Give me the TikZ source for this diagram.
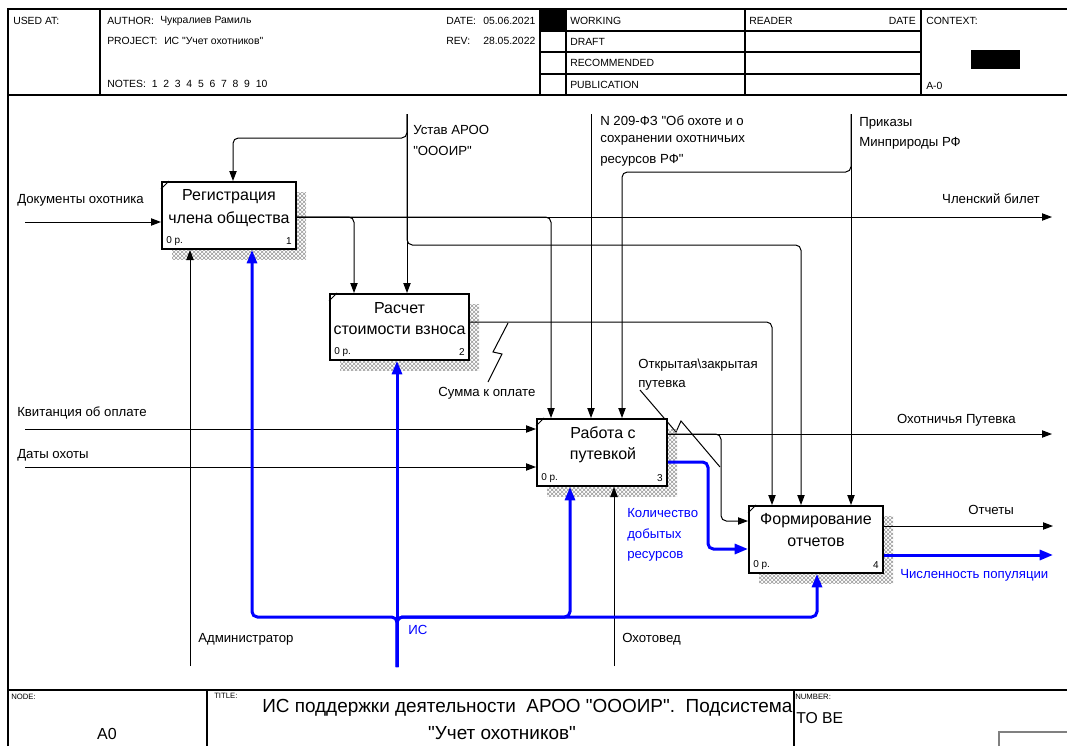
\documentclass[tikz,border=0pt]{standalone}
\usepackage{fontspec}
\setmainfont{Liberation Sans}[Ligatures=TeXOff]
\usetikzlibrary{arrows.meta,calc,patterns,shadows}
\tikzset{
 frm/.style={line width=0.8pt},
 hdr/.style={font=\fontsize{7.8}{9}\selectfont, anchor=west, inner sep=0pt},
 tiny/.style={font=\fontsize{5.8}{7}\selectfont, anchor=west, inner sep=0pt},
 lbl/.style={font=\fontsize{9.9}{11}\selectfont, anchor=west, inner sep=0pt},
 blbl/.style={lbl, text=blue},
 fbox/.style={draw, line width=1.5pt, fill=white, inner sep=0pt,
   general shadow={shadow xshift=7.5pt, shadow yshift=-7.5pt, pattern=crosshatch, pattern color=black!40}},
 btxt/.style={font=\fontsize{12}{13}\selectfont, inner sep=0pt},
 bnum/.style={font=\fontsize{7.5}{8}\selectfont, inner sep=0pt},
 arr/.style={line width=0.75pt, -{Triangle[length=7.5pt,width=5.5pt]}},
 barr/.style={draw=blue, line width=2.25pt, -{Triangle[length=10pt,width=7.5pt]}},
 ln/.style={line width=0.75pt},
 rc/.style={rounded corners=4pt},
}
\begin{document}
\begin{tikzpicture}[x=0.75pt,y=-0.75pt]
\useasboundingbox (0,0) rectangle (1067,746);
% ---------- frame and header ----------
\draw[frm] (8,746) -- (8,9) -- (1067,9);
\draw[frm] (8,95) -- (1067,95);
\foreach \xx in {100,540,566,745,921} \draw[frm] (\xx,9) -- (\xx,95);
\foreach \yy in {31,52,74} \draw[frm] (540,\yy) -- (921,\yy);
\fill (540,9) rectangle (566,31);
\fill (971,50) rectangle (1020,69);
\node[hdr] (hUsed) at (13,21) {USED AT:};
\node[hdr] (hAut) at (107,21) {AUTHOR:};
\node[hdr] (hAutN) at (160,21) {Чукралиев Рамиль};
\node[hdr] (hPrj) at (107,41) {PROJECT:};
\node[hdr] (hPrjN) at (164,41) {ИС "Учет охотников"};
\node[hdr] (hNotes) at (107,84) {NOTES:\ \ 1\ \ 2\ \ 3\ \ 4\ \ 5\ \ 6\ \ 7\ \ 8\ \ 9\ \ 10};
\node[hdr] (hDate) at (446,21) {DATE:};
\node[hdr] (hDateV) at (483,21) {05.06.2021};
\node[hdr] (hRev) at (446,41) {REV:};
\node[hdr] (hRevV) at (483,41) {28.05.2022};
\node[hdr] (hW) at (570,21) {WORKING};
\node[hdr] (hD) at (570,42) {DRAFT};
\node[hdr] (hR) at (570,63) {RECOMMENDED};
\node[hdr] (hP) at (570,85) {PUBLICATION};
\node[hdr] (hRd) at (749,21) {READER};
\node[hdr,anchor=east] (hRdD) at (916,21) {DATE};
\node[hdr] (hCtx) at (926,21) {CONTEXT:};
\node[hdr] (hA0) at (926,86) {A-0};
% ---------- footer ----------
\draw[frm] (8,690) -- (1067,690);
\draw[frm] (207,690) -- (207,746);
\draw[frm] (794,690) -- (794,746);
\draw[gray, line width=1.2pt] (999,746) -- (999,732) -- (1067,732);
\node[tiny] (fNode) at (11,697) {NODE:};
\node[tiny] (fTitle) at (214,696) {TITLE:};
\node[tiny] (fNum) at (795,697) {NUMBER:};
\node[font=\fontsize{12}{13}\selectfont, inner sep=0pt] (fA0) at (107,734) {A0};
\node[font=\fontsize{14.2}{15}\selectfont, inner sep=0pt, anchor=west] (fT1) at (262,708) {ИС поддержки деятельности\ \ АРОО "ОООИР".\ \ Подсистема};
\node[font=\fontsize{14.2}{15}\selectfont, inner sep=0pt] (fT2) at (502,733) {"Учет охотников"};
\node[font=\fontsize{11.8}{13}\selectfont, inner sep=0pt, anchor=west] (fTB) at (796,718) {TO BE};
% ---------- squiggles ----------
\draw[ln] (508,323) -- (493,352) -- (502,354) -- (488,382);
\draw[ln] (640,390) -- (676,432) -- (681,421) -- (720,467);
% ---------- boxes ----------
\node[fbox, minimum width=100.5pt, minimum height=50.25pt] (b1) at (229,215.5) {};
\node[fbox, minimum width=104.25pt, minimum height=49.5pt] (b2) at (399.5,327) {};
\node[fbox, minimum width=97.5pt, minimum height=50.25pt] (b3) at (602,452.5) {};
\node[fbox, minimum width=100.5pt, minimum height=50.25pt] (b4) at (816,539.5) {};
\foreach \b in {b1,b2,b3,b4} \draw[ln] ($(\b.north west)+(0,8)$) -- ($(\b.north west)+(8,0)$);
\node[btxt] (t1a) at (229,197) {Регистрация};
\node[btxt] (t1b) at (229,219) {члена общества};
\node[btxt] (t2a) at (399.5,308) {Расчет};
\node[btxt] (t2b) at (399.5,330) {стоимости взноса};
\node[btxt] (t3a) at (603,433) {Работа с};
\node[btxt] (t3b) at (603,455) {путевкой};
\node[btxt] (t4a) at (816,521) {Формирование};
\node[btxt] (t4b) at (816,542) {отчетов};
\foreach \b/\n in {b1/1,b2/2,b3/3,b4/4}{
  \node[bnum,anchor=west] (\b p) at ($(\b.south west)+(5,-9)$) {0 р.};
  \node[bnum,anchor=east] (\b n) at ($(\b.south east)+(-5,-9)$) {\n};
}
% ---------- connectors ----------
\coordinate (inDok) at (25,222);
\draw[arr] (inDok) -- (inDok -| b1.west);
\coordinate (outCh) at (1052,217);
\draw[arr] (outCh -| b1.east) -- (outCh);
\draw[arr,rc] (outCh -| b1.east) -| ($(b2.north west)+(25,0)$);
\draw[arr,rc] (outCh -| b1.east) -| ($(b3.north west)+(15,0)$);
\coordinate (ust) at (407,114);
\draw[arr] (ust) -- (ust |- b2.north);
\draw[arr,rc] (ust) -- ++(0,24) -| ($(b1.north west)+(72,0)$);
\draw[arr,rc] (ust) -- ++(0,131) -| ($(b4.north west)+(53,0)$);
\coordinate (n209) at (591,114);
\draw[arr] (n209) -- (n209 |- b3.north);
\coordinate (prk) at (851,114);
\draw[arr] (prk) -- (prk |- b4.north);
\draw[arr,rc] (prk) -- ++(0,58) -| ($(b3.north west)+(86,0)$);
\draw[arr,rc] ($(b2.north east)+(0,29)$) -| ($(b4.north west)+(24,0)$);
\coordinate (inKv) at (25,429);
\draw[arr] (inKv) -- (inKv -| b3.west);
\coordinate (inDt) at (25,467);
\draw[arr] (inDt) -- (inDt -| b3.west);
\coordinate (outOh) at (1052,434);
\draw[arr] (outOh -| b3.east) -- (outOh);
\draw[arr,rc] (outOh -| b3.east) -- ++(53,0) |- ($(b4.north west)+(0,16)$);
\draw[barr,rc] ($(b3.north east)+(0,44)$) -- ++(40,0) |- ($(b4.north west)+(0,44)$);
\coordinate (outOt) at (1053,526);
\draw[arr] (outOt -| b4.east) -- (outOt);
\coordinate (outCp) at (1053,555);
\draw[barr] (outCp -| b4.east) -- (outCp);
\coordinate (adm) at (190,666);
\draw[arr] (adm) -- (adm |- b1.south);
\coordinate (ohv) at (614,666);
\draw[arr] (ohv) -- (ohv |- b3.south);
\coordinate (is) at (397,667);
\draw[barr] (is) -- (is |- b2.south);
\draw[barr,rc] (is) -- ++(0,-50) -| ($(b1.south west)+(91,0)$);
\draw[barr,rc] (is) -- ++(0,-50) -| ($(b3.south west)+(34,0)$);
\draw[barr,rc] (is) -- ++(0,-50) -| ($(b4.south west)+(69,0)$);
% ---------- labels ----------
\node[lbl] (lDok) at (17,200) {Документы охотника};
\node[lbl] (lUst1) at (413,130) {Устав АРОО};
\node[lbl] (lUst2) at (413,151) {"ОООИР"};
\node[lbl] (lZ1) at (600,121) {N 209-ФЗ "Об охоте и о};
\node[lbl] (lZ2) at (600,140) {сохранении охотничьих};
\node[lbl] (lZ3) at (600,160) {ресурсов РФ"};
\node[lbl] (lPr1) at (859,123) {Приказы};
\node[lbl] (lPr2) at (859,143) {Минприроды РФ};
\node[lbl,anchor=east] (lCh) at (1040,199) {Членский билет};
\node[lbl] (lSum) at (438,393) {Сумма к оплате};
\node[lbl] (lOp1) at (638,365) {Открытая\textbackslash закрытая};
\node[lbl] (lOp2) at (638,385) {путевка};
\node[lbl] (lKv) at (17,413) {Квитанция об оплате};
\node[lbl,anchor=east] (lOh) at (1016,420) {Охотничья Путевка};
\node[lbl] (lDt) at (17,455) {Даты охоты};
\node[blbl] (lK1) at (627,513) {Количество};
\node[blbl] (lK2) at (627,535) {добытых};
\node[blbl] (lK3) at (627,556) {ресурсов};
\node[lbl] (lOt) at (968,510) {Отчеты};
\node[blbl] (lCp) at (900,575) {Численность популяции};
\node[lbl] (lAdm) at (198,639) {Администратор};
\node[blbl] (lIs) at (408,630) {ИС};
\node[lbl] (lOhv) at (622,639) {Охотовед};
\end{tikzpicture}
\end{document}
